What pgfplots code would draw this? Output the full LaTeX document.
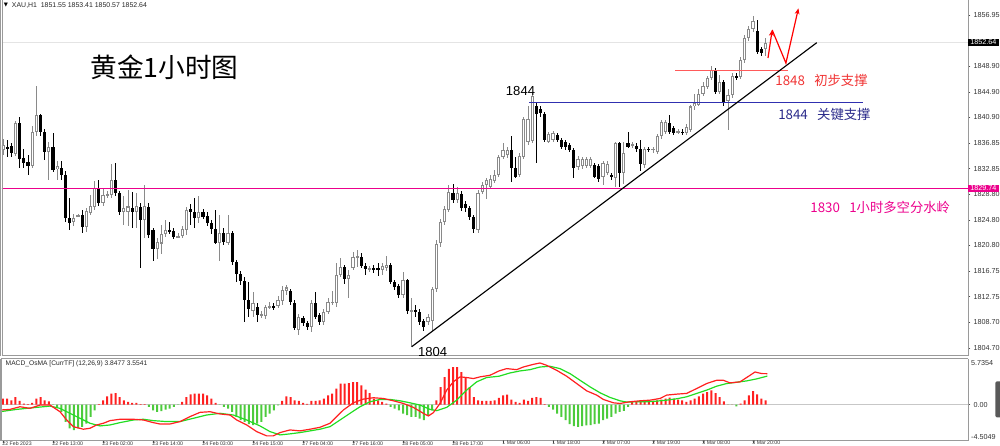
\documentclass[border=0pt]{standalone}
\usepackage{pgfplots}
\pgfplotsset{compat=1.18}
\usepackage{pgfplotstable}
\usetikzlibrary{arrows.meta}
\usepackage{fontspec}
\setmainfont{Liberation Sans}
\newfontfamily\cjk{Noto Sans CJK SC}
\newfontfamily\sym{DejaVu Sans}

\definecolor{bullc}{HTML}{8A8A8A}
\definecolor{mred}{HTML}{FF2020}
\definecolor{mgreen}{HTML}{22DD22}
\definecolor{hgreen}{HTML}{4CCB3C}
\definecolor{lblue}{HTML}{3030B0}
\definecolor{tblue}{HTML}{2A2A8A}
\definecolor{lred}{HTML}{FF5A5A}
\definecolor{tred}{HTML}{F03434}
\definecolor{axg}{HTML}{9A9A9A}
\definecolor{pline}{HTML}{E4E4E4}

\pgfplotstableread{
i o h l c
0 1835.8 1837.5 1834.9 1836.6
1 1836.3 1837.3 1834.6 1836.0
2 1836.4 1836.8 1834.7 1835.3
3 1835.2 1840.3 1834.9 1840.0
4 1840.0 1841.0 1832.9 1834.4
5 1834.5 1836.0 1833.0 1833.7
6 1833.9 1835.0 1831.8 1833.3
7 1833.2 1839.5 1832.9 1838.6
8 1838.6 1845.8 1838.0 1841.3
9 1841.3 1841.5 1838.0 1838.6
10 1838.6 1839.0 1834.2 1835.5
11 1835.4 1837.0 1831.0 1836.3
12 1836.3 1838.5 1832.3 1832.7
13 1832.8 1834.1 1831.0 1833.2
14 1833.0 1834.0 1831.0 1831.8
15 1831.8 1832.5 1824.5 1825.1
16 1825.1 1828.3 1823.2 1824.3
17 1824.5 1825.8 1823.9 1825.1
18 1825.4 1825.8 1825.2 1825.5
19 1825.5 1826.3 1822.8 1823.7
20 1823.7 1826.7 1822.9 1826.2
21 1825.9 1828.7 1825.5 1827.0
22 1826.9 1830.9 1826.3 1829.8
23 1829.6 1831.0 1827.0 1827.5
24 1827.5 1829.6 1827.0 1828.7
25 1828.6 1829.3 1828.3 1828.8
26 1828.7 1833.6 1828.3 1831.0
27 1831.0 1833.7 1828.5 1829.0
28 1829.0 1829.3 1825.5 1826.0
29 1826.0 1828.6 1824.0 1826.6
30 1826.0 1829.5 1823.9 1826.9
31 1826.6 1829.2 1823.5 1826.1
32 1826.0 1829.0 1823.5 1827.0
33 1826.8 1827.5 1817.3 1824.8
34 1824.8 1830.3 1822.0 1827.0
35 1826.8 1827.5 1822.0 1822.5
36 1823.2 1823.6 1818.3 1820.3
37 1820.3 1822.0 1818.7 1821.3
38 1821.1 1824.0 1819.4 1822.6
39 1822.6 1824.8 1822.2 1823.2
40 1823.2 1824.5 1822.6 1823.0
41 1823.0 1823.5 1821.8 1822.1
42 1822.1 1822.8 1821.9 1822.3
43 1822.3 1823.8 1822.0 1823.3
44 1823.2 1826.8 1822.5 1826.4
45 1826.5 1827.3 1824.0 1826.0
46 1826.0 1828.3 1823.6 1825.1
47 1825.1 1828.5 1824.3 1826.0
48 1826.0 1826.5 1825.0 1825.3
49 1825.4 1826.0 1823.8 1824.3
50 1824.3 1824.8 1822.6 1823.3
51 1823.3 1826.3 1821.0 1821.2
52 1821.2 1825.6 1818.3 1822.7
53 1822.7 1823.5 1820.8 1821.3
54 1821.2 1825.5 1820.8 1822.7
55 1822.7 1823.0 1817.8 1818.2
56 1818.2 1818.5 1815.0 1816.3
57 1816.3 1816.8 1814.6 1815.2
58 1815.2 1815.8 1808.8 1812.2
59 1812.2 1815.0 1809.5 1810.8
60 1810.5 1813.5 1809.6 1811.8
61 1811.2 1811.8 1808.8 1809.9
62 1809.9 1810.5 1809.4 1810.0
63 1809.8 1811.5 1809.3 1811.1
64 1811.1 1812.0 1810.8 1811.3
65 1811.2 1811.8 1810.7 1811.1
66 1811.3 1812.8 1811.0 1812.2
67 1812.0 1814.5 1811.5 1813.8
68 1813.6 1814.6 1813.0 1814.2
69 1813.7 1814.0 1811.5 1812.0
70 1811.8 1812.2 1807.5 1807.8
71 1807.5 1810.0 1806.7 1809.6
72 1809.4 1809.8 1808.2 1808.6
73 1808.6 1808.9 1807.5 1808.0
74 1808.0 1812.2 1807.2 1811.7
75 1811.7 1813.5 1809.2 1809.6
76 1809.8 1810.2 1808.3 1808.8
77 1808.8 1810.8 1808.3 1810.4
78 1810.4 1812.5 1810.0 1812.0
79 1811.8 1813.6 1811.5 1812.0
80 1811.7 1818.0 1811.2 1816.2
81 1816.2 1818.8 1815.9 1817.4
82 1817.4 1817.8 1814.7 1815.6
83 1815.6 1817.0 1812.5 1816.2
84 1817.3 1819.8 1817.0 1819.0
85 1819.0 1820.0 1817.4 1819.1
86 1819.0 1819.6 1817.2 1817.6
87 1817.6 1818.0 1816.2 1817.1
88 1817.1 1817.6 1816.6 1817.2
89 1817.2 1817.8 1816.5 1817.1
90 1817.3 1818.0 1816.0 1816.9
91 1816.9 1818.0 1816.2 1817.6
92 1817.3 1819.1 1816.8 1817.8
93 1817.8 1818.0 1814.8 1815.0
94 1815.0 1815.3 1813.8 1814.2
95 1814.4 1814.8 1812.5 1813.0
96 1813.0 1816.6 1812.5 1815.3
97 1815.3 1815.6 1810.0 1810.5
98 1810.4 1812.5 1804.9 1810.6
99 1810.6 1811.5 1809.5 1810.4
100 1810.4 1810.8 1808.3 1808.8
101 1809.0 1809.3 1807.3 1808.0
102 1808.8 1810.0 1808.3 1809.6
103 1809.0 1814.3 1807.3 1813.9
104 1813.9 1821.6 1813.5 1821.1
105 1821.1 1825.0 1820.6 1824.5
106 1824.5 1827.0 1824.0 1826.5
107 1826.4 1830.3 1826.0 1829.2
108 1829.1 1830.4 1827.5 1827.9
109 1827.9 1830.0 1827.5 1829.0
110 1828.8 1829.3 1826.2 1826.6
111 1827.3 1827.8 1826.1 1826.6
112 1826.6 1827.0 1824.8 1825.2
113 1825.2 1825.6 1822.8 1823.3
114 1823.2 1829.5 1822.7 1829.1
115 1829.1 1830.8 1828.8 1830.3
116 1830.2 1831.4 1828.0 1831.0
117 1830.0 1831.8 1829.7 1831.3
118 1830.9 1832.6 1830.6 1831.9
119 1831.9 1835.0 1831.5 1834.7
120 1834.7 1836.8 1834.4 1835.8
121 1834.9 1836.2 1834.5 1835.7
122 1835.7 1837.9 1830.8 1833.0
123 1833.0 1834.7 1831.3 1831.6
124 1831.8 1835.3 1831.5 1834.8
125 1834.7 1841.0 1834.3 1840.7
126 1837.0 1842.6 1836.6 1840.7
127 1837.1 1844.8 1836.8 1844.3
128 1842.6 1843.3 1833.7 1841.5
129 1842.2 1842.6 1841.0 1841.5
130 1841.5 1841.8 1837.0 1837.3
131 1837.1 1838.6 1836.8 1838.3
132 1837.3 1838.7 1837.0 1838.4
133 1838.1 1838.4 1837.0 1837.3
134 1837.3 1837.6 1835.9 1836.2
135 1837.1 1837.4 1835.8 1836.2
136 1836.6 1836.9 1835.4 1835.8
137 1835.8 1836.0 1831.3 1832.9
138 1833.05 1834.8 1832.6 1834.4
139 1833.2 1834.7 1832.8 1834.3
140 1833.2 1834.6 1832.9 1834.3
141 1833.3 1834.7 1833.0 1834.3
142 1833.4 1833.8 1831.3 1831.6
143 1833.2 1833.5 1830.8 1831.3
144 1831.5 1834.0 1830.3 1833.7
145 1832.1 1834.0 1831.8 1833.6
146 1831.85 1832.2 1831.0 1831.5
147 1831.3 1837.1 1830.0 1836.8
148 1836.8 1837.0 1829.9 1832.1
149 1832.1 1837.1 1830.5 1835.25
150 1836.9 1838.6 1836.0 1836.3
151 1836.5 1837.0 1836.1 1836.6
152 1836.4 1836.8 1835.5 1835.9
153 1835.9 1837.3 1832.4 1833.6
154 1833.4 1836.3 1833.0 1835.9
155 1835.9 1836.2 1835.4 1835.8
156 1835.8 1836.3 1835.3 1835.9
157 1835.5 1838.3 1835.2 1837.9
158 1837.9 1840.5 1837.5 1840.2
159 1838.6 1840.5 1838.3 1840.2
160 1839.95 1841.3 1838.3 1838.6
161 1839.2 1839.5 1838.1 1838.4
162 1838.6 1839.0 1838.2 1838.7
163 1838.6 1839.0 1838.1 1838.5
164 1838.5 1839.8 1838.2 1839.3
165 1838.9 1842.9 1838.6 1842.6
166 1842.6 1844.6 1842.0 1843.2
167 1842.9 1845.3 1842.6 1844.5
168 1844.5 1846.4 1844.2 1845.8
169 1845.6 1847.3 1845.3 1847.0
170 1847.0 1848.9 1846.8 1848.3
171 1848.3 1848.6 1844.6 1844.9
172 1844.9 1847.5 1844.5 1846.5
173 1846.5 1846.8 1842.6 1843.1
174 1843.4 1845.4 1838.9 1844.4
175 1844.4 1847.8 1844.0 1847.4
176 1847.3 1847.8 1846.7 1847.1
177 1847.2 1850.4 1846.9 1849.9
178 1849.9 1853.8 1849.5 1853.3
179 1853.3 1855.2 1852.9 1854.7
180 1854.7 1856.8 1854.3 1856.0
181 1854.5 1856.2 1850.9 1851.2
182 1851.6 1852.0 1850.6 1851.0
183 1851.55 1853.41 1850.57 1852.64
}\candles

\pgfplotstableread{
i v
0 0.74
1 0.74
2 0.53
3 0.94
4 0.45
5 0.12
6 0.04
7 0.20
8 0.74
9 0.94
10 0.53
11 0.41
12 -0.05
13 -0.29
14 -0.91
15 -2.15
16 -2.97
17 -3.18
18 -2.97
19 -2.77
20 -2.36
21 -1.53
22 -0.71
23 0.05
24 0.53
25 1.03
26 1.36
27 1.44
28 0.94
29 0.53
30 0.33
31 0.20
32 0.20
33 0.04
34 0.04
35 -0.29
36 -0.71
37 -0.91
38 -0.83
39 -0.62
40 -0.50
41 -0.29
42 -0.05
43 0.33
44 0.94
45 1.27
46 1.36
47 1.36
48 1.36
49 1.15
50 0.74
51 0.20
52 -0.05
53 -0.29
54 -0.50
55 -0.91
56 -1.53
57 -1.94
58 -2.15
59 -2.44
60 -2.56
61 -2.36
62 -2.15
63 -1.53
64 -1.12
65 -0.71
66 -0.10
67 0.45
68 1.03
69 0.94
70 0.53
71 0.45
72 0.20
73 0.10
74 0.45
75 0.45
76 0.53
77 0.74
78 1.15
79 1.36
80 1.98
81 2.60
82 2.60
83 2.68
84 2.80
85 2.80
86 2.39
87 1.85
88 1.44
89 0.74
90 0.53
91 0.33
92 0.12
93 -0.29
94 -0.50
95 -0.71
96 -1.12
97 -1.33
98 -1.53
99 -1.53
100 -1.74
101 -1.94
102 -1.33
103 -0.71
104 0.53
105 2.18
106 3.42
107 4.45
108 4.66
109 4.66
110 4.04
111 3.42
112 2.18
113 0.94
114 0.53
115 0.45
116 0.45
117 0.45
118 0.53
119 0.82
120 1.15
121 1.23
122 0.61
123 0.33
124 0.20
125 0.61
126 0.45
127 0.82
128 0.94
129 0.82
130 0.05
131 -0.29
132 -0.62
133 -1.12
134 -1.53
135 -1.94
136 -2.44
137 -2.69
138 -2.77
139 -2.69
140 -2.60
141 -2.56
142 -2.44
143 -2.36
144 -1.94
145 -1.74
146 -1.53
147 -1.12
148 -0.91
149 -0.79
150 -0.29
151 0.33
152 0.33
153 0.33
154 0.33
155 0.33
156 0.45
157 0.53
158 0.61
159 0.74
160 0.86
161 0.74
162 0.61
163 0.53
164 0.33
165 0.53
166 0.74
167 1.03
168 1.36
169 1.56
170 1.77
171 1.44
172 0.94
173 0.41
174 0.00
175 0.00
176 -0.21
177 0.12
178 0.53
179 1.15
180 1.69
181 1.27
182 0.74
183 0.53
}\osma

\pgfplotstableread{
i v
-0.72 -0.68
1.68 -0.60
4.08 -0.27
6.48 -0.47
8.88 -0.06
11.28 -0.06
13.68 -0.89
15.28 -1.92
16.88 -2.75
19.28 -3.07
20.88 -2.95
22.48 -2.54
24.08 -2.33
25.68 -2.00
28.08 -1.83
31.28 -1.83
33.68 -1.92
36.08 -2.25
37.68 -2.42
40.08 -2.42
42.48 -2.12
44.88 -1.50
47.28 -0.97
49.68 -0.89
52.08 -1.17
54.48 -1.30
56.08 -1.92
58.48 -2.54
60.88 -3.37
63.28 -3.90
64.88 -3.90
66.48 -3.49
68.88 -3.16
71.28 -3.28
73.68 -3.07
76.08 -2.83
78.48 -2.33
80.08 -1.50
81.68 -0.68
84.08 0.22
86.48 0.68
88.88 0.85
91.28 0.76
93.68 0.47
96.08 0.14
98.48 -0.35
100.88 -1.09
102.08 -1.42
103.28 -1.01
104.88 0.14
106.48 1.80
108.08 2.83
109.68 3.45
111.28 3.37
112.88 3.24
114.48 3.45
116.88 3.65
119.04 4.19
120.88 4.48
123.28 4.35
124.88 4.68
127.28 5.01
128.88 5.18
130.48 4.89
132.88 4.27
135.28 3.53
137.68 2.62
140.08 1.71
142.48 1.18
144.08 0.64
146.48 0.22
148.08 0.14
150.48 0.35
152.88 0.47
155.28 0.55
157.68 0.76
159.28 1.18
161.68 1.30
164.08 1.39
166.48 2.00
168.88 2.62
171.28 3.03
172.88 3.03
174.48 2.70
176.88 2.83
178.48 3.37
180.48 4.06
182.08 3.86
183.44 3.85
}\macdline

\pgfplotstableread{
i v
-0.72 -0.89
3.28 -0.60
7.28 -0.39
11.28 -0.19
13.68 -0.47
16.08 -1.09
18.48 -1.71
20.88 -2.33
23.28 -2.66
25.68 -2.54
28.08 -2.25
31.28 -1.92
33.68 -1.83
36.08 -2.00
39.28 -2.12
42.48 -2.12
45.68 -1.71
48.88 -1.30
52.08 -1.09
55.28 -1.30
58.48 -1.92
61.68 -2.66
64.08 -3.37
66.48 -3.78
68.88 -3.65
71.28 -3.49
73.68 -3.28
76.08 -3.07
78.48 -2.75
80.88 -1.92
83.28 -1.09
85.68 -0.27
88.08 0.35
90.48 0.64
92.88 0.64
95.28 0.47
97.68 0.22
100.08 -0.06
102.48 -0.60
104.08 -0.76
106.48 -0.35
108.88 0.55
111.28 1.80
113.68 2.83
116.08 3.37
119.04 3.53
121.68 3.94
124.08 4.19
126.48 4.35
128.88 4.68
131.28 4.77
133.68 4.48
136.08 3.86
138.48 3.03
140.88 2.21
143.28 1.47
145.68 0.89
148.08 0.47
149.68 0.31
152.08 0.35
154.48 0.35
156.88 0.43
159.28 0.55
161.68 0.72
164.08 0.97
166.48 1.39
168.88 1.80
171.28 2.29
173.68 2.62
176.08 2.78
178.48 2.95
180.88 3.20
183.44 3.55
}\signalline

\pgfplotsset{
  candlebase/.style={draw=none, no markers},
}

\begin{document}
\begin{tikzpicture}
\useasboundingbox (0,0) rectangle (750pt,334.5pt);
\clip (0,0) rectangle (750pt,334.5pt);

% ---------------- main price panel ----------------
\begin{axis}[
  name=main,
  at={(1.5pt,334.5pt)}, anchor=north west,
  width=724.5pt, height=267pt, scale only axis,
  xmin=-0.24, xmax=231.6, ymin=1803.44, ymax=1859.30,
  axis x line*=bottom, axis y line*=right,
  axis line style={draw=axg, line width=0.75pt},
  xtick=\empty,
  ytick={1804.70,1808.70,1812.75,1816.75,1820.80,1824.80,1828.80,1832.85,1836.85,1840.90,1844.90,1848.90,1856.95},
  yticklabels={1804.70,1808.70,1812.75,1816.75,1820.80,1824.80,1828.80,1832.85,1836.85,1840.90,1844.90,1848.90,1856.95},
  yticklabel style={font=\fontsize{5.4}{6}\selectfont, xshift=-1.2pt, text=black!80},
  tick align=outside, major tick length=1.8pt,
  tick style={draw=black!70, line width=0.4pt},
  after end axis/.code={
    \draw[axg, line width=0.6pt] (rel axis cs:0,0) -- (rel axis cs:0,1);
    \draw[axg, line width=0.6pt] ([xshift=-1pt]rel axis cs:0,0) -- ([xshift=-1pt]rel axis cs:0,1);
    \node[anchor=west, fill=black, text=white, inner xsep=1.6pt, inner ysep=0.6pt,
      font=\fontsize{5.4}{5.4}\selectfont] at (axis cs:231.6,1852.64) {1852.64};
    \node[anchor=west, fill=magenta, text=white, inner xsep=1.6pt, inner ysep=0.6pt,
      font=\fontsize{5.4}{5.4}\selectfont] at (axis cs:231.6,1829.74) {1829.74};
  },
]
% current price line
\addplot[pline, line width=1.3pt] coordinates {(-1,1852.64) (240,1852.64)};

% bullish candles (hollow)
\addplot[candlebase, restrict expr to domain={\thisrow{c}-\thisrow{o}}{0:100},
  error bars/.cd, y dir=both, y explicit, error mark=none,
  error bar style={draw=bullc, line width=0.7pt}]
  table[x=i, y expr={(\thisrow{h}+\thisrow{l})/2}, y error expr={(\thisrow{h}-\thisrow{l})/2}] {\candles};
\addplot[candlebase, restrict expr to domain={\thisrow{c}-\thisrow{o}}{0:100},
  error bars/.cd, y dir=both, y explicit, error mark=none,
  error bar style={draw=bullc, line width=2.4pt}]
  table[x=i, y expr={(\thisrow{o}+\thisrow{c})/2}, y error expr={max(abs(\thisrow{c}-\thisrow{o})/2,0.08)}] {\candles};
\addplot[candlebase, restrict expr to domain={\thisrow{c}-\thisrow{o}}{0:100},
  error bars/.cd, y dir=both, y explicit, error mark=none,
  error bar style={draw=white, line width=0.9pt}]
  table[x=i, y expr={(\thisrow{o}+\thisrow{c})/2}, y error expr={max(abs(\thisrow{c}-\thisrow{o})/2-0.16,0)}] {\candles};
% bearish candles (filled)
\addplot[candlebase, restrict expr to domain={\thisrow{o}-\thisrow{c}}{0.00001:100},
  error bars/.cd, y dir=both, y explicit, error mark=none,
  error bar style={draw=black, line width=0.7pt}]
  table[x=i, y expr={(\thisrow{h}+\thisrow{l})/2}, y error expr={(\thisrow{h}-\thisrow{l})/2}] {\candles};
\addplot[candlebase, restrict expr to domain={\thisrow{o}-\thisrow{c}}{0.00001:100},
  error bars/.cd, y dir=both, y explicit, error mark=none,
  error bar style={draw=black, line width=2.4pt}]
  table[x=i, y expr={(\thisrow{o}+\thisrow{c})/2}, y error expr={max(abs(\thisrow{c}-\thisrow{o})/2,0.08)}] {\candles};

% horizontal levels
\addplot[magenta, line width=0.9pt] coordinates {(-1,1829.74) (240,1829.74)};
\addplot[lblue, line width=0.9pt] coordinates {(126.3,1843.2) (206.5,1843.2)};
\addplot[lred, line width=0.8pt] coordinates {(161.3,1848.3) (188.5,1848.3)};
% trend line
\addplot[black, line width=0.85pt] coordinates {(98.1,1804.9) (195.3,1852.6)};
% projected path arrows
\draw[red, line width=0.9pt, -{Stealth[length=4.5pt,width=3.6pt]}] (axis cs:183.6,1850.2) -- (axis cs:184.6,1854.6);
\draw[red, line width=0.9pt, -{Stealth[length=4.5pt,width=3.6pt]}] (axis cs:184.6,1854.6) -- (axis cs:187.9,1849.4) -- (axis cs:190.9,1858.0);

% texts
\node[anchor=west, inner sep=0pt, font=\sym\fontsize{4}{4}\selectfont] at ([xshift=1.2pt,yshift=-3.9pt]rel axis cs:0,1) {▼};
\node[anchor=west, inner sep=0pt, font=\fontsize{5.2}{6}\selectfont, text=black!85] at ([xshift=7.3pt,yshift=-3.9pt]rel axis cs:0,1) {XAU,H1\ \ 1851.55 1853.41 1850.57 1852.64};
\node[anchor=west, inner sep=0pt, font=\cjk\fontsize{20}{24}\selectfont] at (axis cs:20.9,1848.7) {黄金1小时图};
\node[inner sep=0pt, font=\fontsize{9.8}{11}\selectfont] at (axis cs:124.2,1845.0) {1844};
\node[inner sep=0pt, font=\fontsize{9.8}{11}\selectfont] at (axis cs:103.1,1804.1) {1804};
\node[anchor=west, inner sep=0pt, text=tred, font=\cjk\fontsize{10}{12}\selectfont] at (axis cs:185.3,1846.6) {1848\hspace{0.7em}初步支撑};
\node[anchor=west, inner sep=0pt, text=tblue, font=\cjk\fontsize{10}{12}\selectfont] at (axis cs:186.0,1841.4) {1844\hspace{0.7em}关键支撑};
\node[anchor=west, inner sep=0pt, text=magenta, font=\cjk\fontsize{10}{12}\selectfont] at (axis cs:193.7,1826.8) {1830\hspace{0.7em}1小时多空分水岭};
\end{axis}

% ---------------- MACD / OsMA panel ----------------
\begin{axis}[
  at={(1.5pt,65.6pt)}, anchor=north west,
  width=724.5pt, height=61.65pt, scale only axis,
  xmin=-0.24, xmax=231.6, ymin=-4.5049, ymax=5.7354,
  axis x line*=bottom, axis y line*=right,
  axis line style={draw=axg, line width=0.75pt},
  xtick={0,12,...,180},
  xticklabels={22 Feb 2023,22 Feb 13:00,23 Feb 02:00,23 Feb 14:00,24 Feb 03:00,24 Feb 15:00,27 Feb 04:00,27 Feb 16:00,28 Feb 05:00,28 Feb 17:00,1 Mar 06:00,1 Mar 18:00,2 Mar 07:00,2 Mar 19:00,3 Mar 08:00,3 Mar 20:00},
  xticklabel style={anchor=north west, font=\fontsize{3.9}{4}\selectfont, xshift=-0.6pt, yshift=1.6pt, inner sep=0pt, text=black!80},
  ytick={0}, yticklabels={0.00},
  yticklabel style={font=\fontsize{5.4}{6}\selectfont, xshift=-1.2pt, text=black!80},
  tick align=outside, major tick length=1.8pt,
  tick style={draw=black!70, line width=0.4pt},
  after end axis/.code={
    \draw[axg, line width=0.75pt] (rel axis cs:0,0) -- (rel axis cs:0,1) -- (rel axis cs:1,1);
    \draw[axg, line width=0.6pt] ([xshift=-1pt]rel axis cs:0,0) -- ([xshift=-1pt]rel axis cs:0,1);
    \node[anchor=west, inner sep=0pt, font=\fontsize{5.4}{6}\selectfont, text=black!80] at ([xshift=2.2pt,yshift=-3.4pt]axis cs:231.6,5.7354) {5.7354};
    \node[anchor=west, inner sep=0pt, font=\fontsize{5.4}{6}\selectfont, text=black!80] at ([xshift=2.2pt,yshift=2.8pt]axis cs:231.6,-4.5049) {-4.5049};
  },
]
\addplot[black!22, line width=1pt] coordinates {(-1,0) (240,0)};
\addplot[ybar, bar width=1.5pt, bar shift=0pt, fill=mred, draw=none, restrict y to domain=0:10] table[x=i,y=v] {\osma};
\addplot[ybar, bar width=1.5pt, bar shift=0pt, fill=hgreen, draw=none, restrict y to domain=-10:0] table[x=i,y=v] {\osma};
\addplot[mgreen, line width=0.9pt] table[x=i,y=v] {\signalline};
\addplot[mred, line width=0.9pt] table[x=i,y=v] {\macdline};
\node[anchor=west, inner sep=0pt, font=\fontsize{5}{6}\selectfont, text=black!85] at ([xshift=2.6pt,yshift=-4.2pt]rel axis cs:0,1) {MACD\_OsMA [CurrTF] (12,26,9) 3.8477 3.5541};
\end{axis}

\fill[black!65, rounded corners=1pt] (746.5pt,21.5pt) rectangle (753pt,48.5pt);
\end{tikzpicture}
\end{document}
